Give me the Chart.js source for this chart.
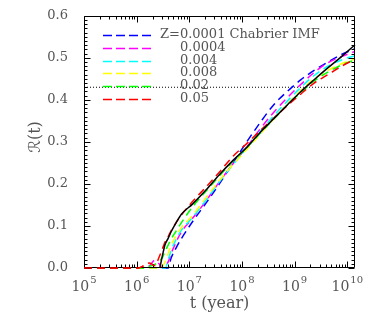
<!DOCTYPE html>
<html>
<head>
<meta charset="utf-8">
<script src="https://cdn.jsdelivr.net/npm/chart.js@4/dist/chart.umd.min.js"></script>
<style>
html,body{margin:0;padding:0;background:#fff;}
#c{display:block;}
</style>
</head>
<body>
<canvas id="c" width="374" height="320"></canvas>
<script>
// log10 of time in years at which values were read
const logT = [5.00, 6.03, 6.13, 6.24, 6.34, 6.44, 6.49, 6.54, 6.60, 6.65, 6.75, 6.85, 7.06, 7.32, 7.57, 7.83, 8.09, 8.34, 8.60, 8.86, 9.12, 9.37, 9.63, 9.89, 10.146];

const seriesLabels = ['Z=0.0001 Chabrier IMF', '0.0004', '0.004', '0.008', '0.02', '0.05'];
const seriesColors = ['#0000ff', '#ff00ff', '#00ffff', '#ffff00', '#00ff00', '#ff0000'];

const rZ00001 = [0, 0, 0, 0, 0, 0, 0, 0, 0, 0.022, 0.048, 0.070, 0.110, 0.155, 0.200, 0.250, 0.300, 0.345, 0.388, 0.420, 0.448, 0.470, 0.490, 0.508, 0.522];
const rZ00004 = [0, 0, 0, 0.005, 0.018, 0.008, 0, 0.005, 0.015, 0.033, 0.062, 0.086, 0.118, 0.160, 0.205, 0.248, 0.288, 0.330, 0.370, 0.405, 0.437, 0.465, 0.488, 0.503, 0.515];
const rZ0004  = [0, 0, 0, 0, 0, 0, 0, 0, 0.020, 0.040, 0.068, 0.090, 0.120, 0.162, 0.205, 0.246, 0.285, 0.324, 0.362, 0.397, 0.430, 0.458, 0.480, 0.495, 0.505];
const rZ0008  = [0, 0, 0, 0, 0, 0, 0.003, 0.015, 0.035, 0.052, 0.077, 0.096, 0.125, 0.168, 0.208, 0.246, 0.282, 0.318, 0.354, 0.390, 0.423, 0.450, 0.470, 0.486, 0.497];
const rZ002   = [0, 0, 0, 0.004, 0.008, 0.018, 0.025, 0.040, 0.055, 0.068, 0.088, 0.108, 0.145, 0.183, 0.219, 0.254, 0.286, 0.320, 0.354, 0.388, 0.418, 0.445, 0.466, 0.483, 0.495];
const rZ005   = [0, 0, 0.005, 0.012, 0.006, 0.030, 0.046, 0.062, 0.075, 0.088, 0.108, 0.126, 0.158, 0.193, 0.228, 0.266, 0.296, 0.326, 0.356, 0.386, 0.414, 0.440, 0.460, 0.480, 0.497];
const rFit    = [null, null, null, null, null, 0, 0.030, 0.056, 0.071, 0.085, 0.108, 0.128, 0.152, 0.186, 0.222, 0.256, 0.287, 0.322, 0.355, 0.388, 0.420, 0.448, 0.476, 0.503, 0.531];
const refLevel = 0.43;

const xMin = 1e5, xMax = 1.4e10;
const xDecades = [5, 6, 7, 8, 9, 10];
const yTickValues = [0.0, 0.1, 0.2, 0.3, 0.4, 0.5, 0.6];

const toPts = arr => arr.map((v, i) => ({x: Math.pow(10, logT[i]), y: v}));
const allSeries = [rZ00001, rZ00004, rZ0004, rZ0008, rZ002, rZ005];

const datasets = [];
datasets.push({label: 'fit', data: toPts(rFit), borderColor: '#000', borderWidth: 1.5, pointRadius: 0,
  cubicInterpolationMode: 'monotone', order: 0, fill: false, clip: 4});
allSeries.forEach((s, i) => {
  datasets.push({label: seriesLabels[i], data: toPts(s), borderColor: seriesColors[i], borderWidth: 1.5,
    borderDash: [8, 5], pointRadius: 0, cubicInterpolationMode: 'monotone', order: 6 - i, fill: false, clip: 4});
});
datasets.push({label: 'ref', data: [{x: xMin, y: refLevel}, {x: xMax, y: refLevel}], borderColor: '#000',
  borderWidth: 1, borderDash: [1, 2], pointRadius: 0, order: 10, fill: false});

const TXT = '#555';
const SERIF = '"DejaVu Serif", "Liberation Serif", serif';

const decor = {
  id: 'decor',
  afterDraw(chart) {
    const ctx = chart.ctx, a = chart.chartArea;
    const xs = chart.scales.x, ys = chart.scales.y;
    const L = Math.round(a.left) + 0.5, R = Math.round(a.right) - 0.5;
    const T = Math.round(a.top) + 0.5, B = Math.round(a.bottom) - 0.5;
    ctx.save();
    ctx.strokeStyle = '#000';
    ctx.lineWidth = 1;
    ctx.setLineDash([]);
    ctx.beginPath();
    ctx.moveTo(L, T); ctx.lineTo(L, B); ctx.moveTo(R, T); ctx.lineTo(R, B); ctx.moveTo(L, T); ctx.lineTo(R, T);
    // x ticks
    for (let d = 5; d <= 10; d++) {
      for (let k = 1; k <= 9; k++) {
        const v = k * Math.pow(10, d);
        if (v < xMin || v > xMax) continue;
        const px = Math.round(xs.getPixelForValue(v)) + 0.5;
        const len = k === 1 ? 6 : 3;
        ctx.moveTo(px, B); ctx.lineTo(px, B - len);
        ctx.moveTo(px, T); ctx.lineTo(px, T + len);
      }
    }
    // y ticks
    for (let i = 0; i <= 60; i++) {
      const v = i / 100;
      const py = Math.round(ys.getPixelForValue(v)) + 0.5;
      const len = i % 10 === 0 ? 6 : 3;
      ctx.moveTo(L, py); ctx.lineTo(L + len, py);
      ctx.moveTo(R, py); ctx.lineTo(R - len, py);
    }
    ctx.stroke();
    // bottom axis drawn dashed-looking under red zero line: draw solid axis first then
    ctx.beginPath();
    ctx.moveTo(L, B); ctx.lineTo(R, B);
    ctx.stroke();

    // x tick labels 10^n
    ctx.fillStyle = TXT;
    ctx.textBaseline = 'alphabetic';
    xDecades.forEach(d => {
      const px = xs.getPixelForValue(Math.pow(10, d));
      ctx.font = '14px ' + SERIF;
      const wb = ctx.measureText('10').width;
      ctx.font = '10px ' + SERIF;
      const we = ctx.measureText(String(d)).width;
      const x0 = px - (wb + we + 1) / 2;
      ctx.font = '14px ' + SERIF;
      ctx.textAlign = 'left';
      ctx.fillText('10', x0, 291);
      ctx.font = '10px ' + SERIF;
      ctx.fillText(String(d), x0 + wb + 1, 283);
    });

    // axis titles
    ctx.font = '16px ' + SERIF;
    ctx.textAlign = 'center';
    ctx.textBaseline = 'middle';
    ctx.fillText('t (year)', (a.left + a.right) / 2, 304);
    ctx.save();
    ctx.translate(36, 137);
    ctx.rotate(-Math.PI / 2);
    ctx.font = '16px "DejaVu Serif", "DejaVu Sans", serif';
    ctx.fillText('\u211B(t)', 0, 0);
    ctx.restore();

    // legend
    const rows = [35, 48, 61, 73, 86, 99];
    ctx.font = '13px ' + SERIF;
    ctx.textAlign = 'left';
    ctx.textBaseline = 'middle';
    seriesLabels.forEach((lab, i) => {
      ctx.strokeStyle = seriesColors[i];
      ctx.lineWidth = 1.5;
      ctx.setLineDash([9, 4]);
      ctx.beginPath();
      ctx.moveTo(103, rows[i] + 0.5); ctx.lineTo(151, rows[i] + 0.5);
      ctx.stroke();
      ctx.fillStyle = TXT;
      ctx.fillText(lab, i === 0 ? 160 : 180, rows[i]);
    });
    ctx.restore();
  }
};

// draw the zero-level red line on top of bottom axis like the reference
const zeroOverlay = {
  id: 'zeroOverlay',
  afterDraw(chart) {
    const meta = chart.getDatasetMeta(6);
    if (!meta || !meta.dataset) return;
    const ctx = chart.ctx, a = chart.chartArea;
    ctx.save();
    ctx.beginPath();
    ctx.rect(a.left, a.bottom - 3, a.right - a.left, 6);
    ctx.clip();
    meta.dataset.draw(ctx, a);
    ctx.restore();
  }
};

new Chart(document.getElementById('c'), {
  type: 'line',
  data: {datasets},
  options: {
    responsive: false,
    animation: false,
    devicePixelRatio: 1,
    layout: {padding: {top: 15, right: 19, left: 0, bottom: 0}},
    plugins: {legend: {display: false}, tooltip: {enabled: false}},
    scales: {
      x: {
        type: 'logarithmic', min: xMin, max: xMax,
        grid: {display: false}, border: {display: false},
        ticks: {display: false},
        afterFit: s => { s.height = 52; }
      },
      y: {
        type: 'linear', min: 0, max: 0.6,
        grid: {display: false}, border: {display: false},
        afterBuildTicks: s => { s.ticks = yTickValues.map(v => ({value: v})); },
        ticks: {
          color: TXT, padding: 8,
          font: {family: SERIF, size: 13},
          callback: v => Number(v).toFixed(1)
        },
        afterFit: s => { s.width = 84; }
      }
    }
  },
  plugins: [decor, zeroOverlay]
});
</script>
</body>
</html>
